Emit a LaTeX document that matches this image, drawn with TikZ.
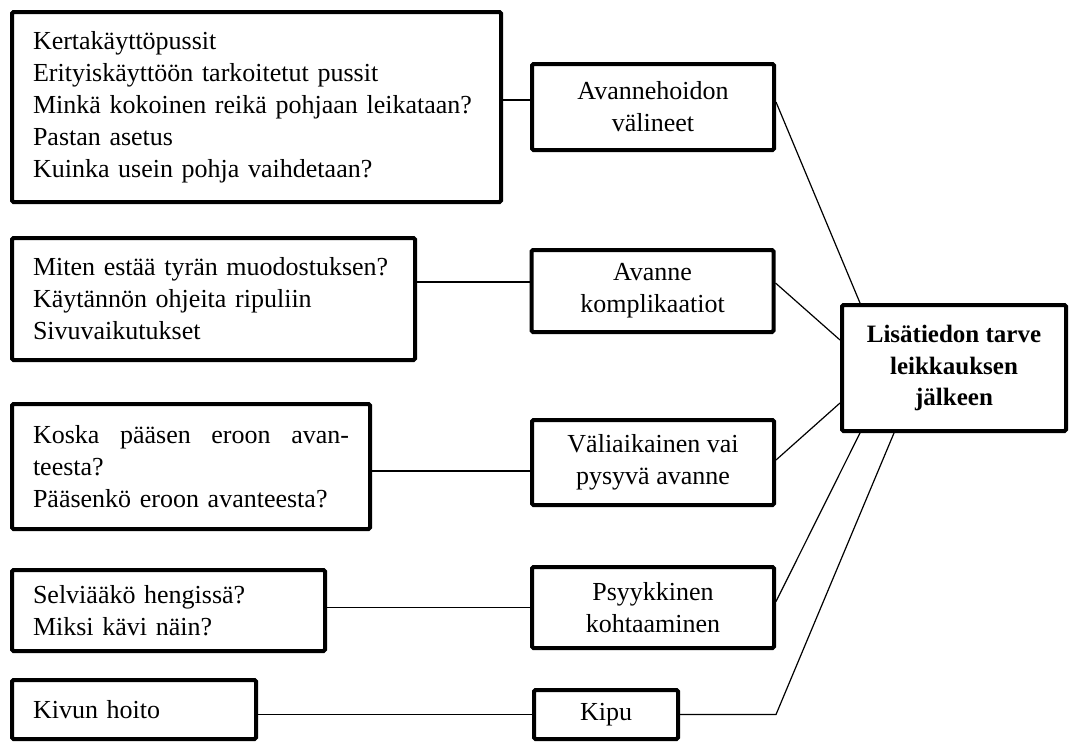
\documentclass[tikz,border=0pt]{standalone}
\usepackage{fontspec}
\setmainfont{Liberation Serif}
\usetikzlibrary{positioning}
\usetikzlibrary{calc}

\begin{document}
\begin{tikzpicture}[x=1pt, y=-1pt, font=\fontsize{26}{32}\selectfont,
	q node/.style={shape=rectangle, draw=black, line width=4pt, rounded corners=1.5pt, inner xsep=21pt, inner ysep=0pt, align=left},
	t node/.style={shape=rectangle, draw=black, line width=4pt, rounded corners=1.5pt, inner sep=0pt, minimum width=242pt, align=center},
	need node/.style={t node, font=\fontsize{25}{31.5}\selectfont\bfseries, minimum width=224pt, minimum height=126pt},
	every edge/.style={draw, line width=1.2pt}, ]
		\useasboundingbox (0,0) rectangle (1070,744);
		%question boxes
		\node[q node, text width=447pt, minimum height=190pt] (q1) at (256.5,107){Kertakäyttöpussit\\Erityiskäyttöön tarkoitetut pussit\\Minkä kokoinen reikä pohjaan leikataan?\\Pastan asetus\\Kuinka usein pohja vaihdetaan?};
		\node[q node, text width=361pt, minimum height=122pt] (q2) at (213.5,299){Miten estää tyrän muodostuksen?\\Käytännön ohjeita ripuliin\\Sivuvaikutukset};
		\node[q node, text width=316pt, minimum height=125pt] (q3) at (191,466.5){Koska\hfill pääsen\hfill eroon\hfill avan-\\teesta?\\Pääsenkö eroon avanteesta?};
		\node[q node, text width=271pt, minimum height=81pt] (q4) at (168.5,610.5){Selviääkö hengissä?\\Miksi kävi näin?};
		\node[q node, text width=202pt, minimum height=59pt] (q5) at (134,709.5){Kivun hoito};
		%topic boxes
		\node[t node, minimum height=86pt] (t1) at (653,107){Avannehoidon\\välineet};
		\node[t node, minimum height=82pt] (t2) at (652.5,291){Avanne\\komplikaatiot};
		\node[t node, minimum height=85pt] (t3) at (653,462.5){Väliaikainen vai\\pysyvä avanne};
		\node[t node, minimum height=81pt] (t4) at (653,607.5){Psyykkinen\\kohtaaminen};
		\node[t node, minimum width=144pt, minimum height=49pt] (t5) at (606,714.5){Kipu};
		\node[need node] (need) at (954,368){Lisätiedon tarve\\leikkauksen\\jälkeen};
		
		\path ([yshift=7pt]t1.west) edge ([yshift=7pt]t1.west -| q1.east);
		\path ([yshift=9pt]t2.west) edge ([yshift=9pt]t2.west -| q2.east);
		\path ([yshift=-8.5pt]t3.west) edge ([yshift=-8.5pt]t3.west -| q3.east);
		\path (t4.west) edge (t4.west -| q4.east);
		\path (t5.west) edge (t5.west -| q5.east);
		
		\path ([yshift=5pt]t1.east) edge ([xshift=20pt]need.north west);
		\path ([yshift=8pt]t2.east) edge ([yshift=28pt]need.west);
		\path ([yshift=2.5pt]t3.east) edge ([yshift=-35pt]need.west);
		\path ([yshift=6pt]t4.east) edge ([xshift=20pt]need.south west);
		\draw[line width=1.2pt] (t5.east) -- (t5.east -| t4.east) -- ([xshift=54pt]need.south west);
		
		\end{tikzpicture}
\end{document}
